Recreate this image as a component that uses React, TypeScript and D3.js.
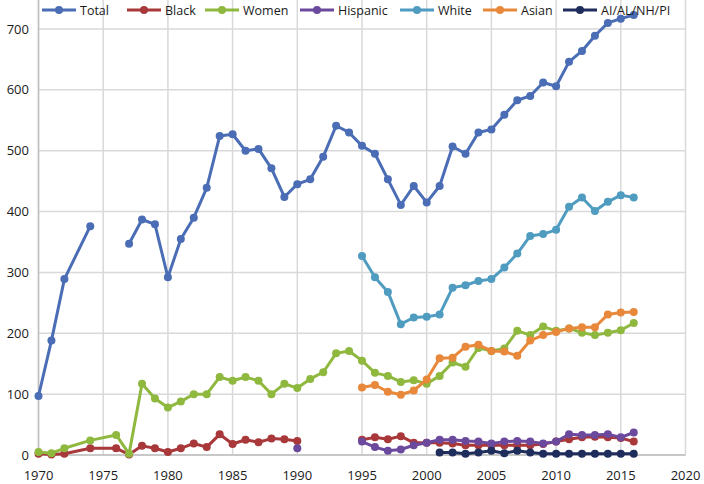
import React from "react";
import * as d3 from "d3";

const years = [1970, 1971, 1972, 1974, 1976, ...d3.range(1977, 2017)];
const N = null;
const total = [97, 188, 289, 376, N, 347, 387, 379, 292, 355, 390, 439, 524, 527, 500, 503, 471, 424, 445, 453, 490, 541, 530, 508, 495, 453, 411, 442, 415, 442, 507, 495, 530, 535, 559, 583, 590, 612, 606, 646, 664, 689, 710, 717, 723];
const black = [2, 1, 2, 11, 11, 1, 15, 11, 5, 11, 19, 13, 34, 18, 25, 21, 27, 26, 23, N, N, N, N, 25, 29, 26, 31, 20, 20, 20, 19, 16, 16, 16, 16, 16, 16, 18, 22, 26, 29, 30, 29, 28, 22];
const women = [5, 3, 11, 24, 33, 2, 117, 93, 78, 88, 100, 100, 128, 122, 128, 122, 100, 117, 110, 125, 136, 167, 171, 155, 135, 130, 120, 123, 117, 130, 152, 145, 176, 171, 175, 204, 197, 211, 204, 208, 201, 197, 201, 205, 217];
const hispanic = [N, N, N, N, N, N, N, N, N, N, N, N, N, N, N, N, N, N, 11, N, N, N, N, 22, 13, 7, 9, 16, 20, 25, 25, 23, 22, 19, 22, 23, 22, 19, 22, 34, 33, 33, 34, 29, 37];
const white = [...Array(23).fill(N), 327, 292, 268, 215, 226, 227, 231, 275, 279, 286, 289, 308, 331, 360, 363, 370, 408, 423, 401, 416, 427, 423];
const asian = [...Array(23).fill(N), 111, 115, 104, 99, 106, 124, 159, 160, 178, 181, 171, 170, 163, 188, 197, 202, 208, 210, 210, 231, 234, 235];
const aiAnNhPi = [...Array(29).fill(N), 4, 4, 2, 4, 7, 3, 7, 4, 2, 2, 2, 2, 2, 2, 2, 2];

const seriesNames = ["Total", "Black", "Women", "Hispanic", "White", "Asian", "AI/AL/NH/PI"];
const seriesValues = [total, black, women, hispanic, white, asian, aiAnNhPi];
const seriesColors = ["#4a6db5", "#a8383a", "#8fb83f", "#6b4a9e", "#4f9cc0", "#e8883a", "#1f2d5c"];
const legendX = [42, 127, 205, 300, 400, 483, 563];

const xTicks = [1970, 1975, 1980, 1985, 1990, 1995, 2000, 2005, 2010, 2015, 2020];
const yTicks = [0, 100, 200, 300, 400, 500, 600, 700];

const W = 704, H = 484;
const FONT = "'Open Sans', 'DejaVu Sans', sans-serif";

export default function App() {
  const x = d3.scaleLinear().domain([1970, 2020]).range([38.5, 685.5]);
  const y = d3.scaleLinear().domain([0, 700]).range([455, 29]);
  const line = d3
    .line<[number, number | null]>()
    .defined((d) => d[1] !== null)
    .x((d) => x(d[0]))
    .y((d) => y(d[1] as number));

  return (
    <svg width={W} height={H} style={{ position: "absolute", left: 0, top: 0, background: "#fff" }}>
      {xTicks.map((t) => (
        <line key={"vx" + t} x1={x(t)} x2={x(t)} y1={0} y2={y(0)} stroke="#d9d9d9" strokeWidth={1.5} />
      ))}
      {yTicks.map((t) => (
        <line key={"hy" + t} x1={x(1970)} x2={x(2020)} y1={y(t)} y2={y(t)} stroke="#d9d9d9" strokeWidth={1.5} />
      ))}
      <line x1={x(1970)} x2={x(1970)} y1={0} y2={y(0)} stroke="#bfbfbf" strokeWidth={1.5} />
      <line x1={x(1970)} x2={x(2020)} y1={y(0)} y2={y(0)} stroke="#bfbfbf" strokeWidth={1.5} />
      {xTicks.map((t) => (
        <text key={"xl" + t} x={x(t)} y={480} textAnchor="middle" fontFamily={FONT} fontSize={13} fill="#1a1a1a">
          {t}
        </text>
      ))}
      {yTicks.map((t) => (
        <text key={"yl" + t} x={29} y={y(t) + 4.5} textAnchor="end" fontFamily={FONT} fontSize={13} fill="#1a1a1a">
          {t}
        </text>
      ))}
      {seriesValues.map((vals, i) => {
        const pts = years.map((yr, j) => [yr, vals[j]] as [number, number | null]);
        return (
          <g key={"s" + i}>
            <path d={line(pts) || ""} fill="none" stroke={seriesColors[i]} strokeWidth={3} strokeLinejoin="round" />
            {pts
              .filter((p) => p[1] !== null)
              .map((p) => (
                <circle key={p[0]} cx={x(p[0])} cy={y(p[1] as number)} r={4} fill={seriesColors[i]} />
              ))}
          </g>
        );
      })}
      {seriesNames.map((name, i) => (
        <g key={"lg" + i} transform={`translate(${legendX[i]},10)`}>
          <line x1={0} x2={34} y1={0} y2={0} stroke={seriesColors[i]} strokeWidth={3} />
          <circle cx={17} cy={0} r={4} fill={seriesColors[i]} />
          <text x={38} y={4.5} fontFamily={FONT} fontSize={12.5} fill="#1a1a1a">
            {name}
          </text>
        </g>
      ))}
    </svg>
  );
}
